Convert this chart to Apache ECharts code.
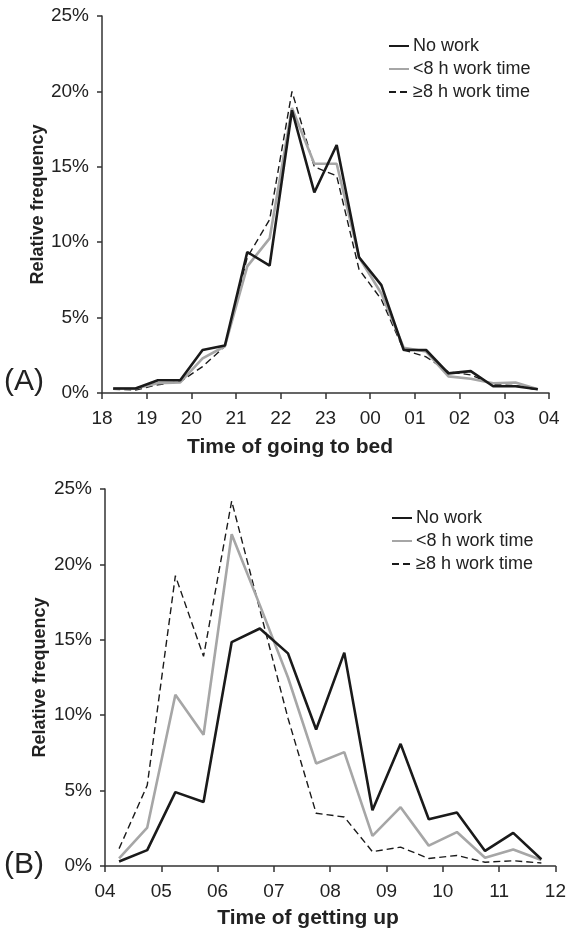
<!DOCTYPE html>
<html>
<head>
<meta charset="utf-8">
<script src="https://cdn.jsdelivr.net/npm/echarts@6/dist/echarts.min.js"></script>
<style>
html,body{margin:0;padding:0;background:#fff;}
#c{width:569px;height:932px;}
</style>
</head>
<body>
<div id="c"></div>
<script>
// Panel A: time of going to bed (hours, 24+ = after midnight)
const bedHours = [18.25, 18.75, 19.25, 19.75, 20.25, 20.75, 21.25, 21.75, 22.25, 22.75,
                  23.25, 23.75, 24.25, 24.75, 25.25, 25.75, 26.25, 26.75, 27.25, 27.75];
const bedNoWork = [0.3, 0.3, 0.85, 0.85, 2.85, 3.15, 9.35, 8.45, 18.75, 13.3,
                   16.45, 9.0, 7.15, 2.85, 2.85, 1.3, 1.45, 0.45, 0.45, 0.25];
const bedLt8 = [0.3, 0.3, 0.65, 0.7, 2.3, 3.1, 8.4, 10.25, 18.9, 15.2,
                15.2, 9.0, 6.6, 3.0, 2.75, 1.1, 0.95, 0.65, 0.7, 0.25];
const bedGe8 = [0.25, 0.2, 0.55, 0.75, 1.75, 3.1, 9.0, 11.5, 20.0, 15.0,
                14.4, 8.2, 6.2, 2.85, 2.4, 1.4, 1.2, 0.55, 0.5, 0.2];

// Panel B: time of getting up
const upHours = [4.25, 4.75, 5.25, 5.75, 6.25, 6.75, 7.25, 7.75,
                 8.25, 8.75, 9.25, 9.75, 10.25, 10.75, 11.25, 11.75];
const upNoWork = [0.3, 1.05, 4.9, 4.25, 14.85, 15.75, 14.1, 9.05,
                  14.15, 3.7, 8.1, 3.1, 3.55, 1.0, 2.2, 0.45];
const upLt8 = [0.5, 2.55, 11.35, 8.7, 22.0, 17.3, 12.5, 6.8,
               7.55, 2.0, 3.9, 1.35, 2.25, 0.55, 1.1, 0.4];
const upGe8 = [1.15, 5.35, 19.25, 13.9, 24.2, 17.0, 9.8, 3.5,
               3.25, 0.95, 1.25, 0.5, 0.7, 0.25, 0.35, 0.2];

const seriesNames = ['No work', '<8 h work time', '≥8 h work time'];
const yTicks = [0, 5, 10, 15, 20, 25];
const panelLabels = ['(A)', '(B)'];
const xTitles = ['Time of going to bed', 'Time of getting up'];
const yTitle = 'Relative frequency';

const FONT = '"Liberation Sans", Arial, Helvetica, sans-serif';
const styles = [
  {color: '#1a1a1a', width: 2.6, type: 'solid'},
  {color: '#a6a6a6', width: 2.6, type: 'solid'},
  {color: '#1a1a1a', width: 1.4, type: [7, 4]}
];

function pairs(xs, ys){ return xs.map((x, i) => [x, ys[i]]); }
const hh = v => { const h = ((Math.round(v) % 24) + 24) % 24; return (h < 10 ? '0' : '') + h; };

function xAxis(idx, min, max){
  return {
    type: 'value', gridIndex: idx, min: min, max: max, interval: 1,
    axisLine: {show: true, lineStyle: {color: '#333', width: 1.5}},
    axisTick: {show: true, inside: false, length: 6, lineStyle: {color: '#333', width: 1.5}},
    axisLabel: {margin: 16, fontFamily: FONT, fontSize: 19, color: '#222', formatter: hh},
    splitLine: {show: false}
  };
}
function yAxis(idx, gap){
  return {
    type: 'value', gridIndex: idx, min: yTicks[0], max: yTicks[yTicks.length - 1], interval: 5,
    name: yTitle, nameLocation: 'middle', nameGap: gap, nameMoveOverlap: false,
    nameTextStyle: {fontFamily: FONT, fontSize: 18, fontWeight: 'bold', color: '#222'},
    axisLine: {show: true, lineStyle: {color: '#333', width: 1.5}},
    axisTick: {show: true, inside: false, length: 5, lineStyle: {color: '#333', width: 1.5}},
    axisLabel: {margin: 13, fontFamily: FONT, fontSize: 19, color: '#222', formatter: '{value}%'},
    splitLine: {show: false}
  };
}
function mkSeries(idx, xs, arrays){
  return arrays.map((ys, k) => ({
    type: 'line', name: seriesNames[k], xAxisIndex: idx, yAxisIndex: idx,
    data: pairs(xs, ys), symbol: 'none', z: 3 - k,
    lineStyle: {color: styles[k].color, width: styles[k].width, type: styles[k].type},
    itemStyle: {color: styles[k].color},
    animation: false
  }));
}
function legend(left, top){
  return {
    data: seriesNames, orient: 'vertical', left: left, top: top,
    itemWidth: 20, itemHeight: 12, itemGap: 5, selectedMode: false,
    itemStyle: {opacity: 0},
    textStyle: {fontFamily: FONT, fontSize: 18, color: '#222', padding: [0, 0, 0, -1]}
  };
}

const chart = echarts.init(document.getElementById('c'), null, {renderer: 'canvas'});
chart.setOption({
  backgroundColor: '#fff',
  animation: false,
  grid: [
    {left: 102, right: 20, top: 16, height: 377},
    {left: 105, right: 11, top: 489, height: 377}
  ],
  xAxis: [xAxis(0, 18, 28), xAxis(1, 4, 12)],
  yAxis: [yAxis(0, 55), yAxis(1, 56)],
  legend: [legend(383, 32), legend(386, 504)],
  series: [].concat(
    mkSeries(0, bedHours, [bedNoWork, bedLt8, bedGe8]),
    mkSeries(1, upHours, [upNoWork, upLt8, upGe8])
  ),
  graphic: [
    {type: 'text', left: 4, top: 367, style: {text: panelLabels[0], font: '30px ' + FONT, fill: '#222'}},
    {type: 'text', left: 4, top: 850, style: {text: panelLabels[1], font: '30px ' + FONT, fill: '#222'}},
    {type: 'text', x: 290, y: 447, style: {text: xTitles[0], font: 'bold 21px ' + FONT, fill: '#222', align: 'center', verticalAlign: 'middle'}},
    {type: 'text', x: 308, y: 918, style: {text: xTitles[1], font: 'bold 21px ' + FONT, fill: '#222', align: 'center', verticalAlign: 'middle'}}
  ]
});
</script>
</body>
</html>
